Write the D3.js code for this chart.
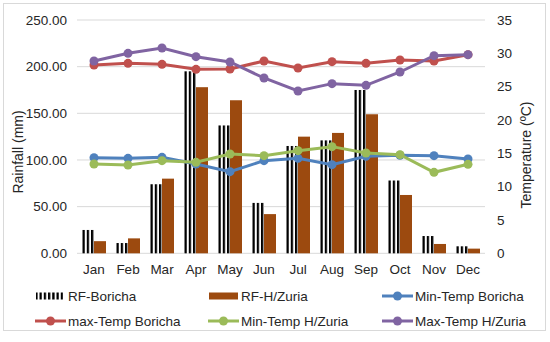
<!DOCTYPE html>
<html>
<head>
<meta charset="utf-8">
<script src="https://cdn.jsdelivr.net/npm/d3@7"></script>
<style>
  body { margin: 0; background: #fff; }
  text { font-family: "Liberation Sans", Arial, sans-serif; fill: #262626; }
</style>
</head>
<body>
<div id="chart"></div>
<script>
const months = ["Jan", "Feb", "Mar", "Apr", "May", "Jun", "Jul", "Aug", "Sep", "Oct", "Nov", "Dec"];
const rfBoricha = [25, 11, 74, 195, 137, 54, 115, 121, 175, 78, 18.5, 7.5];
const rfHZuria = [13, 16, 80, 178, 164, 42, 125, 129, 149, 62.5, 10, 5];
const minTempBoricha = [14.35, 14.25, 14.4, 13.4, 12.25, 13.9, 14.25, 13.3, 14.55, 14.7, 14.65, 14.15];
const maxTempBoricha = [28.25, 28.5, 28.35, 27.6, 27.65, 28.85, 27.8, 28.75, 28.5, 29.0, 28.85, 29.8];
const minTempHZuria = [13.4, 13.25, 13.9, 13.65, 14.9, 14.65, 15.4, 16.0, 15.05, 14.8, 12.15, 13.35];
const maxTempHZuria = [28.85, 30.0, 30.8, 29.5, 28.7, 26.3, 24.35, 25.45, 25.2, 27.2, 29.65, 29.8];
const rainTicks = [0, 50, 100, 150, 200, 250];
const tempTicks = [0, 5, 10, 15, 20, 25, 30, 35];

const margin = {top: 20, right: 65, bottom: 88.7, left: 77},
    width = 550 - margin.left - margin.right,
    height = 342 - margin.top - margin.bottom;

const root = d3.select("#chart")
    .append("svg")
    .attr("width", 550)
    .attr("height", 342);

// striped fill for Boricha rainfall
const pat = root.append("defs").append("pattern")
    .attr("id", "stripes")
    .attr("patternUnits", "userSpaceOnUse")
    .attr("x", margin.left + 5)
    .attr("width", 4.25)
    .attr("height", 10);
pat.append("rect").attr("width", 4.25).attr("height", 10).attr("fill", "#fff");
pat.append("rect").attr("width", 2.3).attr("height", 10).attr("fill", "#000");

// outer frame
root.append("rect")
    .attr("x", 3.5).attr("y", 3.5)
    .attr("width", 542).attr("height", 327)
    .attr("fill", "none")
    .attr("stroke", "#d9d9d9");

const svg = root.append("g")
    .attr("transform", `translate(${margin.left},${margin.top})`);

const x = d3.scaleBand().domain(months).range([0, width]).paddingInner(0).paddingOuter(0);
const xs = d3.scaleBand().domain(["B", "H"]).range([5, x.bandwidth() - 5]);
const yL = d3.scaleLinear().domain([0, 250]).range([height, 0]);
const yR = d3.scaleLinear().domain([0, 35]).range([height, 0]);

// gridlines
svg.append("g")
    .selectAll("line")
    .data(rainTicks)
    .join("line")
    .attr("x1", 0).attr("x2", width)
    .attr("y1", d => yL(d)).attr("y2", d => yL(d))
    .attr("stroke", "#d9d9d9")
    .attr("stroke-width", 1);

// left axis
const axL = svg.append("g")
    .call(d3.axisLeft(yL).tickValues(rainTicks).tickFormat(d3.format(".2f")).tickSize(0).tickPadding(10));
axL.select(".domain").remove();
axL.selectAll("text").style("font-size", "13.5px");

// right axis
const axR = svg.append("g")
    .attr("transform", `translate(${width},0)`)
    .call(d3.axisRight(yR).tickValues(tempTicks).tickSize(0).tickPadding(12));
axR.select(".domain").remove();
axR.selectAll("text").style("font-size", "13.5px");

// bottom axis
const axB = svg.append("g")
    .attr("transform", `translate(0,${height})`)
    .call(d3.axisBottom(x).tickSize(0).tickPadding(11));
axB.select(".domain").remove();
axB.selectAll("text").style("font-size", "13.5px");

// axis titles
root.append("text")
    .attr("transform", "rotate(-90)")
    .attr("x", -152)
    .attr("y", 23)
    .style("text-anchor", "middle")
    .style("font-size", "14px")
    .text("Rainfall (mm)");

root.append("text")
    .attr("transform", "rotate(-90)")
    .attr("x", -155)
    .attr("y", 531)
    .style("text-anchor", "middle")
    .style("font-size", "14px")
    .text("Temperature (ºC)");

// bars
svg.selectAll(".bar-b")
    .data(months)
    .join("rect")
    .attr("x", (d, i) => x(d) + xs("B"))
    .attr("y", (d, i) => yL(rfBoricha[i]))
    .attr("width", xs.bandwidth())
    .attr("height", (d, i) => height - yL(rfBoricha[i]))
    .attr("fill", "url(#stripes)");

svg.selectAll(".bar-h")
    .data(months)
    .join("rect")
    .attr("x", (d, i) => x(d) + xs("H"))
    .attr("y", (d, i) => yL(rfHZuria[i]))
    .attr("width", xs.bandwidth())
    .attr("height", (d, i) => height - yL(rfHZuria[i]))
    .attr("fill", "#9c4a0f");

// lines
const series = [
    {name: "Min-Temp Boricha", values: minTempBoricha, color: "#4f81bd"},
    {name: "max-Temp Boricha", values: maxTempBoricha, color: "#c0504d"},
    {name: "Min-Temp H/Zuria", values: minTempHZuria, color: "#9bbb59"},
    {name: "Max-Temp H/Zuria", values: maxTempHZuria, color: "#8064a2"}
];

const line = d3.line()
    .x((d, i) => x(months[i]) + x.bandwidth() / 2)
    .y(d => yR(d));

series.forEach(s => {
    svg.append("path")
        .datum(s.values)
        .attr("fill", "none")
        .attr("stroke", s.color)
        .attr("stroke-width", 3)
        .attr("d", line);

    svg.selectAll(null)
        .data(s.values)
        .join("circle")
        .attr("cx", (d, i) => x(months[i]) + x.bandwidth() / 2)
        .attr("cy", d => yR(d))
        .attr("r", 4.5)
        .attr("fill", s.color);
});

// legend
const legend = root.append("g").style("font-size", "13.5px");
const cols = [36, 209, 383];
const rows = [296, 321];

function legendText(cx, cy, label) {
    legend.append("text")
        .attr("x", cx + 32)
        .attr("y", cy)
        .attr("dy", "0.35em")
        .text(label);
}

legend.append("rect")
    .attr("x", cols[0]).attr("y", rows[0] - 3.5)
    .attr("width", 27).attr("height", 7)
    .attr("fill", "url(#stripes)");
legendText(cols[0], rows[0], "RF-Boricha");

legend.append("rect")
    .attr("x", cols[1]).attr("y", rows[0] - 3.5)
    .attr("width", 29).attr("height", 7)
    .attr("fill", "#9c4a0f");
legendText(cols[1], rows[0], "RF-H/Zuria");

const lineItems = [
    {s: series[0], c: cols[2], r: rows[0]},
    {s: series[1], c: cols[0], r: rows[1]},
    {s: series[2], c: cols[1], r: rows[1]},
    {s: series[3], c: cols[2], r: rows[1]}
];
lineItems.forEach(it => {
    legend.append("line")
        .attr("x1", it.c - 1).attr("x2", it.c + 30)
        .attr("y1", it.r).attr("y2", it.r)
        .attr("stroke", it.s.color)
        .attr("stroke-width", 3);
    legend.append("circle")
        .attr("cx", it.c + 14.5).attr("cy", it.r)
        .attr("r", 4.5)
        .attr("fill", it.s.color);
    legendText(it.c, it.r, it.s.name);
});
</script>
</body>
</html>
